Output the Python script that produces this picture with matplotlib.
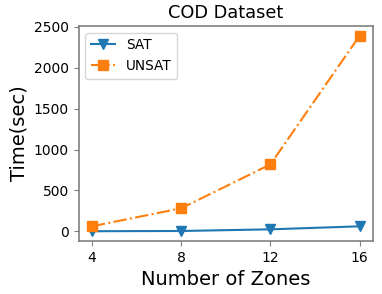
import matplotlib
matplotlib.use('Agg')
import matplotlib.pyplot as plt

zones = [4, 8, 12, 16]
sat_time = [2, 5, 25, 62]
unsat_time = [62, 282, 818, 2390]

fig = plt.figure(figsize=(3.82, 2.94), dpi=100)
ax = fig.add_axes([78.5 / 382, 1 - 241 / 294, (373 - 78.5) / 382, (241 - 26) / 294])

ax.plot(zones, sat_time, color='#1f77b4', marker='v', markersize=7, label='SAT')
ax.plot(zones, unsat_time, color='#ff7f0e', marker='s', markersize=7,
        linestyle='-.', label='UNSAT')

ax.set_xticks(zones)
ax.set_yticks([0, 500, 1000, 1500, 2000, 2500])
ax.tick_params(labelsize=10, color='gray')
for s in ax.spines.values():
    s.set_color('gray')
    s.set_linewidth(1.2)

ax.set_title('COD Dataset', fontsize=12.8)
ax.set_xlabel('Number of Zones', fontsize=14)
ax.set_ylabel('Time(sec)', fontsize=14)
ax.legend(loc='upper left', fontsize=9.8, handlelength=1.8)

fig.savefig('out.png', dpi=100)
